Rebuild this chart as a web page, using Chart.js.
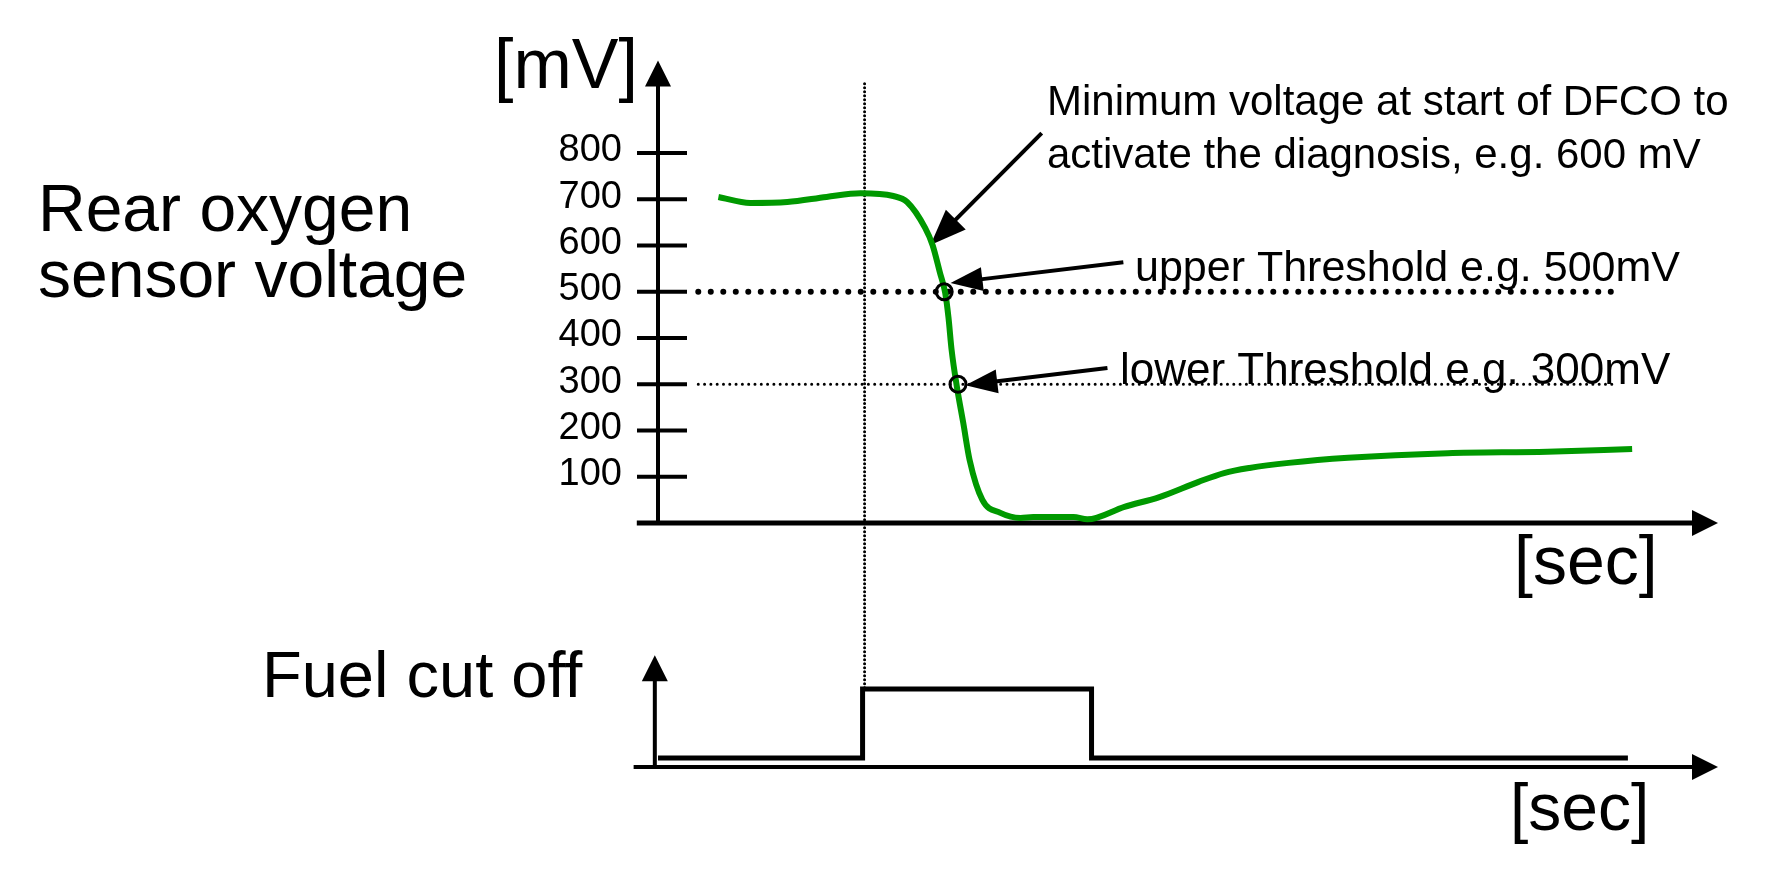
<!DOCTYPE html>
<html>
<head>
<meta charset="utf-8">
<script src="https://cdn.jsdelivr.net/npm/chart.js@4.4.0/dist/chart.umd.min.js"></script>
<style>
    html, body { margin: 0; padding: 0; background: #fff; }
    #wrap { width: 1780px; height: 876px; }
</style>
</head>
<body>
<div id="wrap"><canvas id="dfcoChart" width="1780" height="876"></canvas></div>
<script>
// time is in arbitrary seconds, 0..100 across the time axis
var sensorTime = [5.7, 8.7, 12.2, 15.9, 19.1, 22.2, 23.5, 25.2, 25.9, 26.6, 27.1, 27.4, 27.7, 28.2, 28.8, 29.4, 30.6, 32.3, 34.2, 35.4, 39.2, 40.5, 44.0, 47.3, 51.0, 53.4, 55.8, 59.5, 65.1, 74.5, 83.9, 91.9];
var sensorMv   = [705, 692, 694, 705, 713, 707, 694, 638, 601, 541, 497, 445, 374, 294, 216, 136, 50, 22, 11, 13, 13, 8, 35, 56, 89, 108, 119, 130, 141, 151, 154, 160];

var fuelTime  = [0, 19.3, 40.9, 91.5];
var fuelState = [0, 1, 0, 0];

var mvTicks = [100, 200, 300, 400, 500, 600, 700, 800];
var upperThreshold = 500;
var lowerThreshold = 300;
var thresholdStart = 3.8;
var thresholdEnd = 90.2;
var crossingTime = [27.0, 28.3];
var dfcoStart = 19.3;

var FONT = '"Liberation Sans", Arial, Helvetica, sans-serif';

// chart area and the pixel anchors of both panels
var AREA_TOP = 37, AREA_BOTTOM = 801;
function bounds(pxAtZero, pxPerUnit) {
    return { min: (pxAtZero - AREA_BOTTOM) / pxPerUnit, max: (pxAtZero - AREA_TOP) / pxPerUnit };
}
var mvBounds = bounds(523, 0.4625);
var fuelBounds = bounds(758, 69);

function arrowHead(ctx, x1, y1, x2, y2, len, half) {
    var a = Math.atan2(y2 - y1, x2 - x1);
    ctx.beginPath();
    ctx.moveTo(x2, y2);
    ctx.lineTo(x2 - len * Math.cos(a) + half * Math.sin(a), y2 - len * Math.sin(a) - half * Math.cos(a));
    ctx.lineTo(x2 - len * Math.cos(a) - half * Math.sin(a), y2 - len * Math.sin(a) + half * Math.cos(a));
    ctx.closePath();
    ctx.fill();
}

function arrow(ctx, x1, y1, x2, y2, width, len, half) {
    var a = Math.atan2(y2 - y1, x2 - x1);
    ctx.lineWidth = width;
    ctx.beginPath();
    ctx.moveTo(x1, y1);
    ctx.lineTo(x2 - (len - 2) * Math.cos(a), y2 - (len - 2) * Math.sin(a));
    ctx.stroke();
    arrowHead(ctx, x1, y1, x2, y2, len, half);
}

var decorations = {
    id: 'decorations',
    beforeDatasetsDraw: function(chart) {
        var ctx = chart.ctx;
        var x = chart.scales.x, y = chart.scales.y, f = chart.scales.fuel;
        ctx.save();
        ctx.strokeStyle = '#000';
        ctx.fillStyle = '#000';
        ctx.lineCap = 'butt';

        // dotted marker at the start of fuel cut off
        ctx.save();
        ctx.lineWidth = 3;
        ctx.lineCap = 'round';
        ctx.setLineDash([0, 4]);
        ctx.beginPath();
        ctx.moveTo(x.getPixelForValue(dfcoStart) + 2, y.getPixelForValue(950));
        ctx.lineTo(x.getPixelForValue(dfcoStart) + 2, f.getPixelForValue(1));
        ctx.stroke();
        ctx.restore();

        // upper panel axes
        var x0 = x.getPixelForValue(0), y0 = y.getPixelForValue(0);
        var xEnd = x.getPixelForValue(100);
        ctx.lineWidth = 4;
        ctx.beginPath();
        ctx.moveTo(x0, y0);
        ctx.lineTo(x0, y.getPixelForValue(1000) + 20);
        ctx.stroke();
        arrowHead(ctx, x0, y0, x0, y.getPixelForValue(1000), 26, 13);
        ctx.lineWidth = 5;
        ctx.beginPath();
        ctx.moveTo(x.getPixelForValue(-2), y0);
        ctx.lineTo(xEnd - 20, y0);
        ctx.stroke();
        arrowHead(ctx, x0, y0, xEnd, y0, 26, 13);

        ctx.lineWidth = 4;
        ctx.font = '38px ' + FONT;
        ctx.textAlign = 'right';
        ctx.textBaseline = 'middle';
        mvTicks.forEach(function(v) {
            var py = y.getPixelForValue(v);
            ctx.beginPath();
            ctx.moveTo(x0 - 21, py);
            ctx.lineTo(x0 + 29, py);
            ctx.stroke();
            ctx.fillText(String(v), x0 - 36, py - 2);
        });

        // lower panel axes
        var fx0 = x.getPixelForValue(-0.3), fy0 = f.getPixelForValue(-0.13);
        ctx.lineWidth = 4;
        ctx.beginPath();
        ctx.moveTo(fx0, fy0);
        ctx.lineTo(fx0, f.getPixelForValue(1.49) + 20);
        ctx.stroke();
        arrowHead(ctx, fx0, fy0, fx0, f.getPixelForValue(1.49), 26, 13);
        ctx.beginPath();
        ctx.moveTo(x.getPixelForValue(-2.3), fy0);
        ctx.lineTo(xEnd - 20, fy0);
        ctx.stroke();
        arrowHead(ctx, fx0, fy0, xEnd, fy0, 26, 13);

        // annotation arrows
        arrow(ctx, x.getPixelForValue(36.2), y.getPixelForValue(843), x.getPixelForValue(25.7), y.getPixelForValue(601), 4, 36, 14);
        arrow(ctx, x.getPixelForValue(43.9), y.getPixelForValue(564), x.getPixelForValue(27.6), y.getPixelForValue(519), 4, 32, 12);
        arrow(ctx, x.getPixelForValue(42.4), y.getPixelForValue(335), x.getPixelForValue(29.0), y.getPixelForValue(298), 4, 32, 12);

        // texts
        ctx.textAlign = 'left';
        ctx.textBaseline = 'alphabetic';
        ctx.font = '70px ' + FONT;
        ctx.fillText('[mV]', 494, 88);
        ctx.font = '68px ' + FONT;
        ctx.fillText('[sec]', 1514, 584);
        ctx.font = '66px ' + FONT;
        ctx.fillText('[sec]', 1510, 830);
        ctx.font = '65px ' + FONT;
        ctx.fillText('Fuel cut off', 262, 697);
        ctx.font = '66px ' + FONT;
        ctx.fillText('Rear oxygen', 38, 231);
        ctx.fillText('sensor voltage', 38, 297);
        ctx.font = '42px ' + FONT;
        ctx.fillText('Minimum voltage at start of DFCO to', 1047, 115);
        ctx.fillText('activate the diagnosis, e.g. 600 mV', 1047, 168);
        ctx.font = '43px ' + FONT;
        ctx.fillText('upper Threshold e.g. 500mV', 1135, 281);
        ctx.font = '44px ' + FONT;
        ctx.fillText('lower Threshold e.g. 300mV', 1120, 384);
        ctx.restore();
    }
};

function points(xs, ys) {
    return xs.map(function(v, i) { return { x: v, y: ys[i] }; });
}

var ctx = document.getElementById('dfcoChart').getContext('2d');
var chart = new Chart(ctx, {
    type: 'line',
    data: {
        datasets: [{
            label: 'Crossings',
            data: points(crossingTime, [upperThreshold, lowerThreshold]),
            yAxisID: 'y',
            showLine: false,
            pointRadius: 8,
            pointBorderWidth: 3,
            pointBorderColor: '#000',
            pointBackgroundColor: 'rgba(0,0,0,0)',
            order: 0
        }, {
            label: 'Rear oxygen sensor voltage',
            data: points(sensorTime, sensorMv),
            yAxisID: 'y',
            borderColor: '#009900',
            borderWidth: 6,
            pointRadius: 0,
            cubicInterpolationMode: 'monotone',
            order: 1
        }, {
            label: 'Upper threshold',
            data: points([thresholdStart, thresholdEnd], [upperThreshold, upperThreshold]),
            yAxisID: 'y',
            borderColor: '#000',
            borderWidth: 6,
            borderDash: [0, 12.5],
            borderCapStyle: 'round',
            pointRadius: 0,
            order: 2
        }, {
            label: 'Lower threshold',
            data: points([thresholdStart, thresholdEnd], [lowerThreshold, lowerThreshold]),
            yAxisID: 'y',
            borderColor: '#000',
            borderWidth: 3,
            borderDash: [0, 6.3],
            borderCapStyle: 'round',
            pointRadius: 0,
            order: 3
        }, {
            label: 'Fuel cut off',
            data: points(fuelTime, fuelState),
            yAxisID: 'fuel',
            stepped: 'before',
            borderColor: '#000',
            borderWidth: 5,
            pointRadius: 0,
            order: 4
        }]
    },
    options: {
        responsive: false,
        animation: false,
        devicePixelRatio: 1,
        layout: { padding: { left: 658, right: 62, top: AREA_TOP, bottom: 876 - AREA_BOTTOM } },
        plugins: { legend: { display: false }, tooltip: { enabled: false } },
        scales: {
            x: { type: 'linear', min: 0, max: 100, display: false },
            y: { type: 'linear', min: mvBounds.min, max: mvBounds.max, display: false },
            fuel: { type: 'linear', axis: 'y', min: fuelBounds.min, max: fuelBounds.max, display: false }
        }
    },
    plugins: [decorations]
});
</script>
</body>
</html>
